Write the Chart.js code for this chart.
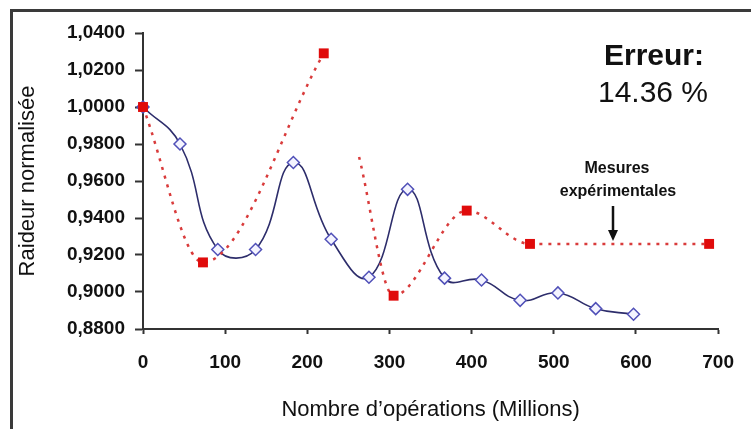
<!DOCTYPE html>
<html>
<head>
<meta charset="utf-8">
<script src="https://cdn.jsdelivr.net/npm/chart.js@4.4.1/dist/chart.umd.min.js"></script>
<style>
  html, body { margin: 0; padding: 0; background: #fff; overflow: hidden; }
  #frame { position: absolute; left: 10px; top: 9px; width: 800px; height: 500px;
           border-left: 3px solid #3a3a3a; border-top: 3px solid #3a3a3a; }
  #wrap { position: absolute; left: 0; top: 0; width: 751px; height: 429px; }
</style>
</head>
<body>
<div id="frame"></div>
<div id="wrap"><canvas id="chart" width="751" height="429"></canvas></div>
<script>
// simulated stiffness (blue diamonds)
var simX = [0, 45, 91, 137, 183, 229, 275, 322, 367, 412, 459, 505, 551, 597];
var simY = [1.0, 0.98, 0.923, 0.923, 0.97, 0.9285, 0.908, 0.9555, 0.9075, 0.9065, 0.8955, 0.8995, 0.891, 0.888];

// measurements (red squares), the line is broken after 220 and picks up again at 263
var mesX = [0, 73, 220, 240, 263, 305, 394, 471, 689];
var mesY = [1.0, 0.916, 1.029, null, 0.973, 0.898, 0.944, 0.926, 0.926];
var mesMarker = [true, true, true, false, false, true, true, true, true];

var yTicks = [0.88, 0.90, 0.92, 0.94, 0.96, 0.98, 1.00, 1.02, 1.04];
var xTicks = [0, 100, 200, 300, 400, 500, 600, 700];

var FONT = "'Liberation Sans', Arial, sans-serif";

var notes = {
  id: 'notes',
  afterDraw: function(chart) {
    var ctx = chart.ctx;
    ctx.save();
    ctx.fillStyle = '#111';
    ctx.textAlign = 'center';
    ctx.textBaseline = 'middle';
    ctx.font = 'bold 30px ' + FONT;
    ctx.fillText('Erreur:', 654, 57);
    ctx.font = '30px ' + FONT;
    ctx.fillText('14.36 %', 653, 94);
    ctx.font = 'bold 16px ' + FONT;
    ctx.fillText('Mesures', 617, 169);
    ctx.fillText('expérimentales', 618, 192);
    // arrow
    ctx.strokeStyle = '#111';
    ctx.lineWidth = 2.5;
    ctx.beginPath();
    ctx.moveTo(613, 206);
    ctx.lineTo(613, 232);
    ctx.stroke();
    ctx.beginPath();
    ctx.moveTo(608, 230);
    ctx.lineTo(618, 230);
    ctx.lineTo(613, 241);
    ctx.closePath();
    ctx.fill();
    ctx.restore();
  }
};

new Chart(document.getElementById('chart'), {
  type: 'line',
  data: {
    datasets: [{
      label: 'Mesures',
      data: mesX.map(function(x, i) { return { x: x, y: mesY[i] }; }),
      borderColor: '#d93b3b',
      borderWidth: 2.5,
      borderDash: [3, 6],
      cubicInterpolationMode: 'monotone',
      spanGaps: false,
      pointStyle: 'rect',
      pointRadius: function(c) { return mesMarker[c.dataIndex] ? 7 : 0; },
      pointBackgroundColor: '#e00b0b',
      pointBorderColor: '#e00b0b',
      pointBorderWidth: 0,
      clip: false,
      order: 0
    }, {
      label: 'Simulation',
      data: simX.map(function(x, i) { return { x: x, y: simY[i] }; }),
      borderColor: '#2d2d6b',
      borderWidth: 1.6,
      tension: 0.45,
      pointStyle: 'rectRot',
      pointRadius: 6,
      pointBackgroundColor: '#f4f4ff',
      pointBorderColor: '#5050b8',
      pointBorderWidth: 1.5,
      clip: false,
      order: 1
    }]
  },
  options: {
    responsive: false,
    animation: false,
    events: [],
    layout: { padding: { left: 0, top: 33, right: 23, bottom: 0 } },
    plugins: { legend: { display: false }, tooltip: { enabled: false } },
    scales: {
      x: {
        type: 'linear',
        min: 0, max: 700,
        afterFit: function(s) { s.height = 100; },
        afterBuildTicks: function(s) { s.ticks = xTicks.map(function(v) { return { value: v }; }); },
        border: { color: '#333', width: 2 },
        grid: { drawOnChartArea: false, drawTicks: true, tickLength: 5, tickColor: '#333', tickWidth: 2 },
        ticks: { color: '#111', padding: 17, font: { family: FONT, size: 19, weight: 'bold' } },
        title: {
          display: true,
          text: 'Nombre d\u2019opérations (Millions)',
          color: '#111',
          font: { family: FONT, size: 22 },
          padding: { top: 0, bottom: 6 }
        }
      },
      y: {
        type: 'linear',
        min: 0.88, max: 1.04,
        afterFit: function(s) { s.width = 143; },
        afterBuildTicks: function(s) { s.ticks = yTicks.map(function(v) { return { value: v }; }); },
        border: { color: '#333', width: 2 },
        grid: { drawOnChartArea: false, drawTicks: true, tickLength: 8, tickColor: '#333', tickWidth: 2 },
        ticks: {
          color: '#111', padding: 10,
          font: { family: FONT, size: 19, weight: 'bold' },
          callback: function(v) { return v.toFixed(4).replace('.', ','); }
        },
        title: {
          display: true,
          text: 'Raideur normalisée',
          color: '#111',
          font: { family: FONT, size: 22 },
          padding: { top: 15, bottom: 0 }
        }
      }
    }
  },
  plugins: [notes]
});
</script>
</body>
</html>
